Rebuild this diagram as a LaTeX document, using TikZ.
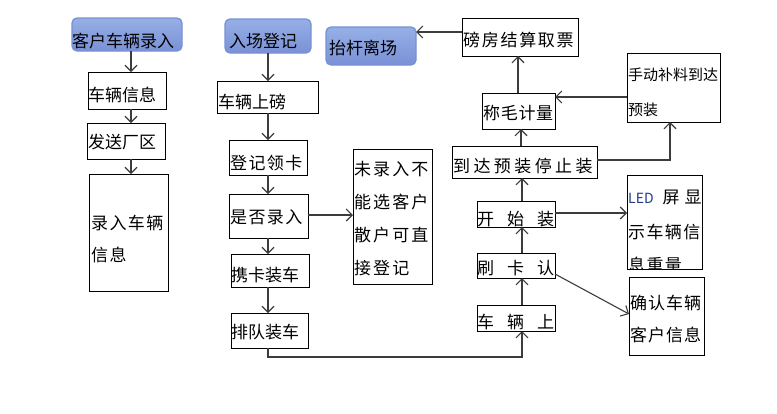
\documentclass[tikz,border=0pt]{standalone}
\usepackage{fontspec}
\setmainfont{Noto Sans CJK SC}
\usetikzlibrary{arrows.meta,calc}
\definecolor{bluetop}{RGB}{150,176,230}
\definecolor{bluebot}{RGB}{122,144,214}
\definecolor{blueline}{RGB}{118,146,212}
\definecolor{linegray}{RGB}{60,60,60}
\definecolor{ledblue}{RGB}{35,60,140}
\tikzset{
  box/.style={draw=black,line width=1pt,fill=white,inner sep=0pt,outer sep=0pt},
  bluebox/.style={draw=blueline,line width=1.3pt,top color=bluetop,bottom color=bluebot,rounded corners=5pt,inner sep=0pt,outer sep=0pt},
  txt/.style={inner sep=0pt,anchor=west,font=\fontsize{17}{20}\selectfont},
  arr/.style={draw=linegray,line width=1.1pt,-{Straight Barb[length=6pt,width=12pt,line width=1.1pt]}},
  conn/.style={draw=linegray,line width=1.1pt}
}
\newcommand\bx[6][box]{\node[#1,anchor=north west,minimum width={(#4-#2)*1pt},minimum height={(#5-#3)*1pt}] (#6) at (#2,#3) {};}
\newcommand\ls[1]{\addfontfeature{LetterSpace=#1}}
\begin{document}
\begin{tikzpicture}[x=1pt,y=-1pt]
\useasboundingbox (0,0) rectangle (777,413);
\fill[white] (0,0) rectangle (777,413);
% boxes
\bx[bluebox]{72}{18}{182}{51}{kh}
\bx{88}{72}{166}{109}{clxx}
\bx{87}{123}{165}{159}{fsc}
\bx{89}{174}{168}{291}{lrcl}
\bx[bluebox]{225}{19}{311}{53}{rz}
\bx[bluebox]{326}{27}{416}{65}{ttlc}
\bx{217}{81}{318}{113}{clsb}
\bx{229}{140}{307}{175}{djlk}
\bx{229}{194}{308}{238}{sflr}
\bx{231}{254}{309}{287}{xkzc}
\bx{231}{313}{308}{348}{pdzc}
\bx{353}{149}{432}{284}{wlr}
\bx{462}{18}{578}{56}{bf}
\bx{482}{93}{555}{129}{cm}
\bx{627}{53}{720}{122}{sd}
\bx{452}{146}{597}{178}{dd}
\bx{477}{201}{555}{227}{ksz}
\bx{477}{253}{555}{278}{skr}
\bx{477}{305}{555}{331}{cls}
\bx{627}{175}{702}{269}{led}
\bx{629}{277}{704}{355}{qr}
% texts
\node[txt] (tkh) at (72,41) {客户车辆录入};
\node[txt] (tclxx) at (88,95) {车辆信息};
\node[txt] (tfsc) at (88,142) {发送厂区};
\node[txt] (tlrcla) at (91,223) {\ls{8}录入车辆};
\node[txt] (tlrclb) at (91,255) {\ls{8}信息};
\node[txt] (trz) at (229,41) {入场登记};
\node[txt] (tttlc) at (329,48) {抬杆离场};
\node[txt] (tclsb) at (218,102) {车辆上磅};
\node[txt] (tdjlk) at (230,163) {\ls{8}登记领卡};
\node[txt] (tsflr) at (230,217) {\ls{8}是否录入};
\node[txt] (txkzc) at (231,275) {携卡装车};
\node[txt] (tpdzc) at (231,332) {排队装车};
\node[txt] (twlra) at (354,169) {\ls{12}未录入不};
\node[txt] (twlrb) at (354,202) {\ls{12}能选客户};
\node[txt] (twlrc) at (354,235) {\ls{12}散户可直};
\node[txt] (twlrd) at (354,268) {\ls{12}接登记};
\node[txt] (tbf) at (463,40) {\ls{10}磅房结算取票};
\node[txt] (tcm) at (483,113) {\ls{4}称毛计量};
\node[txt,font=\fontsize{15}{18}\selectfont] (tsda) at (628,75) {手动补料到达};
\node[txt,font=\fontsize{15}{18}\selectfont] (tsdb) at (628,110) {预装};
\node[txt] (tdd) at (453,166) {\ls{20}到达预装停止装};
\node[txt] (tksz) at (477,219) {开\hspace{13pt}始\hspace{13pt}装};
\node[txt] (tskr) at (477,268) {刷\hspace{13pt}卡\hspace{13pt}认};
\node[txt] (tcls) at (477,322) {车\hspace{13pt}辆\hspace{13pt}上};
\node[txt] (tleda) at (628,197) {{\fontsize{14}{16}\selectfont\color{ledblue}LED}\hspace{9pt}屏\hspace{5pt}显};
\node[txt] (tledb) at (628,232) {\ls{8}示车辆信};
\begin{scope}
\clip (led.north west) rectangle (led.south east);
\node[txt] (tledc) at (628,265) {\ls{8}息重量};
\end{scope}
\node[txt] (tqra) at (630,303) {\ls{6}确认车辆};
\node[txt] (tqrb) at (630,335) {\ls{6}客户信息};
% connectors left column
\draw[arr] (131,0 |- kh.south) -- (131,0 |- clxx.north);
\draw[arr] (131,0 |- clxx.south) -- (131,0 |- fsc.north);
\draw[arr] (131,0 |- fsc.south) -- (131,0 |- lrcl.north);
% middle column
\draw[arr] (268,0 |- rz.south) -- (268,0 |- clsb.north);
\draw[arr] (268,0 |- clsb.south) -- (268,0 |- djlk.north);
\draw[arr] (268,0 |- djlk.south) -- (268,0 |- sflr.north);
\draw[arr] (268,0 |- sflr.south) -- (268,0 |- xkzc.north);
\draw[arr] (268,0 |- xkzc.south) -- (268,0 |- pdzc.north);
\draw[arr] (sflr.east |- 0,215) -- (wlr.west |- 0,215);
\draw[arr] (268,0 |- pdzc.south) -- (268,357) -- (522,357) -- (522,0 |- cls.south);
% right column
\draw[arr] (522,0 |- cls.north) -- (522,0 |- skr.south);
\draw[arr] (522,0 |- skr.north) -- (522,0 |- ksz.south);
\draw[arr] (522,0 |- ksz.north) -- (522,0 |- dd.south);
\draw[arr] (521,0 |- dd.north) -- (521,0 |- cm.south);
\draw[arr] (518,0 |- cm.north) -- (518,0 |- bf.south);
\draw[arr] (bf.west |- 0,32) -- (ttlc.east |- 0,32);
\draw[arr] (sd.west |- 0,97) -- (cm.east |- 0,97);
\draw[arr] (dd.east |- 0,160) -- (670,160) -- (670,0 |- sd.south);
\draw[arr] (ksz.east |- 0,213) -- (led.west |- 0,213);
\draw[arr] (skr.east |- 0,274) -- (qr.west |- 0,314);
\end{tikzpicture}
\end{document}
